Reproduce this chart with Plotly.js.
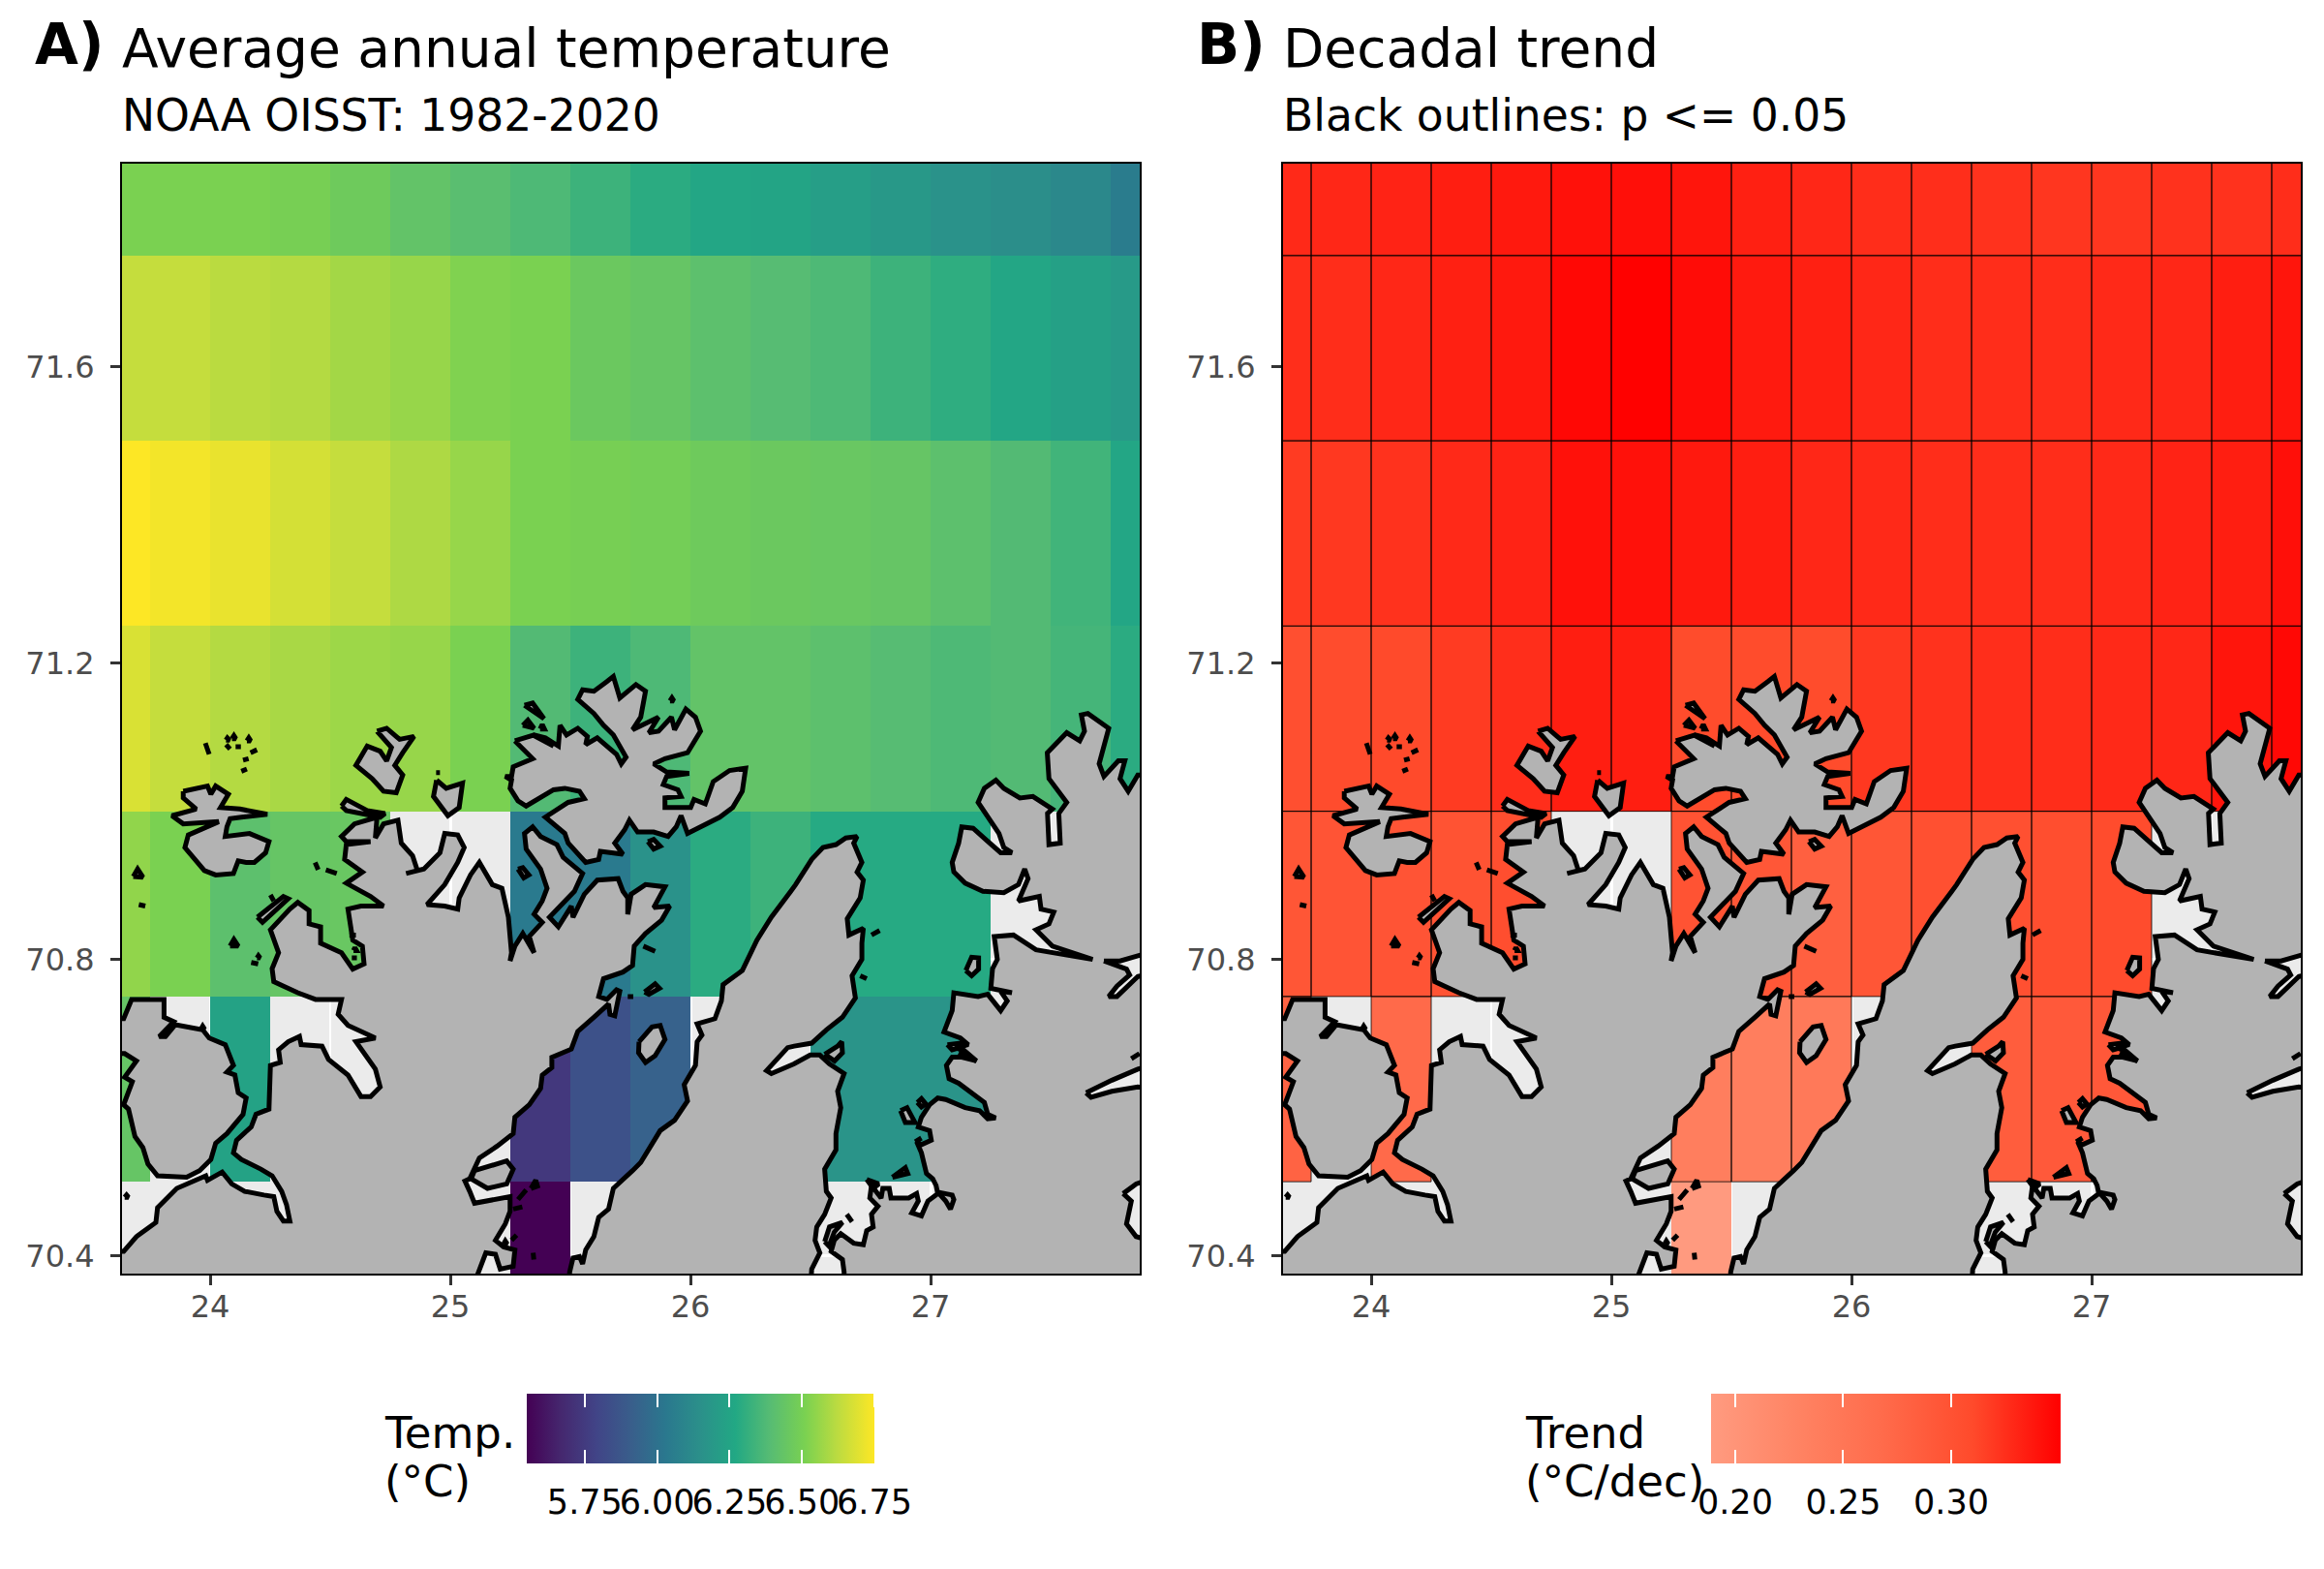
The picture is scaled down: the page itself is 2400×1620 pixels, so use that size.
<!DOCTYPE html>
<html><head><meta charset="utf-8">
<script src="https://cdn.plot.ly/plotly-3.0.1.min.js"></script>
<style>html,body{margin:0;padding:0;background:#fff}</style></head>
<body><div id="chart" style="width:2400px;height:1620px"></div>
<script>
const cellLon=[23.625,23.875,24.125,24.375,24.625,24.875,25.125,25.375,25.625,25.875,26.125,26.375,26.625,26.875,27.125,27.375,27.625,27.875];
const cellLat=[70.375,70.625,70.875,71.125,71.375,71.625,71.875];
const _=null;
const temp70375=[_,_,_,_,_,_,_,5.55,_,_,_,_,_,_,_,_,_,_];
const temp70625=[6.44,_,6.24,_,_,_,_,5.74,5.85,5.93,_,_,6.17,6.17,6.17,_,_,_];
const temp70875=[6.55,6.51,6.41,6.44,6.45,_,_,6.04,6.04,6.16,6.29,6.33,6.28,6.28,6.28,_,_,_];
const temp71125=[6.68,6.64,6.61,6.59,6.57,6.56,6.51,6.38,6.33,6.37,6.43,6.43,6.41,6.39,6.37,6.38,6.35,6.29];
const temp71375=[6.75,6.73,6.71,6.67,6.64,6.60,6.56,6.51,6.50,6.49,6.47,6.46,6.45,6.44,6.41,6.38,6.34,6.26];
const temp71625=[6.64,6.64,6.62,6.61,6.58,6.56,6.52,6.51,6.46,6.44,6.41,6.39,6.37,6.33,6.30,6.26,6.23,6.20];
const temp71875=[6.51,6.51,6.51,6.50,6.47,6.43,6.40,6.37,6.33,6.29,6.26,6.25,6.22,6.19,6.16,6.14,6.11,6.05];
const trend70375=[_,_,_,_,_,_,_,0.190,_,_,_,_,_,_,_,_,_,_];
const trend70625=[.278,_,.270,_,_,_,_,.237,.237,.245,_,_,.286,.291,.292,_,_,_];
const trend70875=[.295,.297,.297,.299,.305,_,_,.299,.294,.282,.295,.302,.302,.305,.307,_,_,_];
const trend71125=[.304,.307,.310,.318,.325,.334,.334,.308,.308,.308,.320,.323,.325,.326,.328,.329,.339,.346];
const trend71375=[.318,.320,.323,.328,.331,.341,.341,.337,.334,.329,.328,.326,.326,.326,.328,.331,.334,.342];
const trend71625=[.325,.326,.329,.333,.337,.346,.350,.344,.336,.333,.329,.326,.326,.326,.328,.329,.334,.339];
const trend71875=[.328,.329,.331,.334,.337,.341,.342,.339,.333,.329,.326,.325,.323,.321,.321,.323,.323,.326];
const tempTicks=[5.75,6.00,6.25,6.50,6.75];
const trendTicks=[0.20,0.25,0.30];
const lonTicks=[24,25,26,27];
const latTicks=[70.4,70.8,71.2,71.6];
const notSignificantLat=70.375;

const mainlandWest=[[23.566,70.351],[23.566,70.406],[23.640,70.406],[23.693,70.426],[23.774,70.445],[23.781,70.465],[23.861,70.491],[23.982,70.508],[23.989,70.502],[24.050,70.513],[24.090,70.497],[24.144,70.487],[24.224,70.482],[24.265,70.480],[24.278,70.460],[24.305,70.447],[24.332,70.447],[24.318,70.469],[24.298,70.487],[24.258,70.508],[24.211,70.517],[24.130,70.530],[24.097,70.539],[24.110,70.556],[24.171,70.574],[24.191,70.591],[24.245,70.598],[24.251,70.657],[24.292,70.661],[24.285,70.678],[24.325,70.689],[24.372,70.696],[24.379,70.685],[24.466,70.683],[24.493,70.665],[24.574,70.644],[24.628,70.615],[24.668,70.615],[24.708,70.628],[24.688,70.652],[24.607,70.689],[24.688,70.694],[24.574,70.711],[24.533,70.726],[24.547,70.746],[24.439,70.746],[24.365,70.755],[24.265,70.770],[24.258,70.7875],[24.285,70.809],[24.251,70.840],[24.332,70.868],[24.365,70.877],[24.412,70.866],[24.412,70.848],[24.460,70.844],[24.460,70.822],[24.547,70.809],[24.594,70.787],[24.641,70.794],[24.634,70.818],[24.594,70.826],[24.574,70.868],[24.628,70.872],[24.722,70.872],[24.668,70.885],[24.567,70.903],[24.634,70.918],[24.560,70.935],[24.567,70.955],[24.668,70.959],[24.567,70.959],[24.547,70.966],[24.601,70.983],[24.695,70.992],[24.688,70.964],[24.722,70.983],[24.782,70.988],[24.796,70.957],[24.843,70.940],[24.863,70.920],[24.816,70.916],[24.890,70.922],[24.957,70.944],[24.977,70.970],[25.031,70.968],[25.058,70.951],[25.031,70.931],[24.977,70.901],[24.903,70.874],[24.977,70.872],[25.031,70.868],[25.037,70.883],[25.084,70.914],[25.121,70.931],[25.175,70.901],[25.215,70.896],[25.242,70.857],[25.255,70.809],[25.249,70.798],[25.269,70.818],[25.302,70.835],[25.349,70.809],[25.329,70.831],[25.383,70.850],[25.349,70.861],[25.383,70.879],[25.403,70.896],[25.376,70.922],[25.316,70.949],[25.309,70.970],[25.343,70.979],[25.376,70.966],[25.444,70.955],[25.470,70.938],[25.551,70.916],[25.517,70.892],[25.413,70.857],[25.450,70.844],[25.504,70.872],[25.511,70.857],[25.558,70.888],[25.612,70.907],[25.699,70.909],[25.719,70.892],[25.739,70.883],[25.739,70.861],[25.753,70.888],[25.813,70.901],[25.894,70.898],[25.847,70.870],[25.914,70.872],[25.880,70.853],[25.813,70.835],[25.766,70.818],[25.759,70.792],[25.719,70.783],[25.638,70.774],[25.618,70.750],[25.652,70.746],[25.692,70.759],[25.706,70.757],[25.685,70.724],[25.665,70.726],[25.659,70.740],[25.598,70.722],[25.531,70.703],[25.504,70.679],[25.423,70.668],[25.423,70.654],[25.383,70.644],[25.376,70.626],[25.329,70.604],[25.269,70.587],[25.262,70.565],[25.195,70.548],[25.121,70.532],[25.081,70.504],[25.061,70.501],[25.081,70.487],[25.101,70.471],[25.249,70.480],[25.249,70.460],[25.229,70.443],[25.188,70.421],[25.222,70.412],[25.269,70.408],[25.262,70.386],[25.208,70.382],[25.188,70.402],[25.148,70.404],[25.114,70.375],[25.114,70.351]];
const westPeninsula=[[23.593,70.720],[23.640,70.720],[23.673,70.746],[23.808,70.746],[23.808,70.722],[23.848,70.716],[23.788,70.696],[23.814,70.696],[23.855,70.712],[23.969,70.705],[23.996,70.694],[24.063,70.685],[24.097,70.657],[24.070,70.648],[24.103,70.644],[24.117,70.620],[24.150,70.613],[24.137,70.591],[24.070,70.565],[24.023,70.552],[24.003,70.530],[23.956,70.515],[23.902,70.506],[23.781,70.508],[23.741,70.524],[23.720,70.546],[23.687,70.561],[23.660,70.598],[23.640,70.604],[23.676,70.635],[23.644,70.641],[23.693,70.663],[23.644,70.673],[23.593,70.673]];
const eastPeninsula=[[25.497,70.351],[25.497,70.378],[25.511,70.397],[25.538,70.399],[25.551,70.389],[25.564,70.408],[25.598,70.426],[25.618,70.452],[25.659,70.463],[25.679,70.491],[25.759,70.515],[25.793,70.526],[25.874,70.569],[25.934,70.583],[25.988,70.609],[25.974,70.631],[26.021,70.657],[26.028,70.689],[26.048,70.698],[26.028,70.713],[26.102,70.720],[26.129,70.744],[26.136,70.766],[26.216,70.785],[26.277,70.826],[26.337,70.857],[26.418,70.892],[26.438,70.901],[26.505,70.935],[26.552,70.951],[26.606,70.955],[26.647,70.964],[26.694,70.966],[26.680,70.957],[26.714,70.931],[26.694,70.918],[26.720,70.907],[26.707,70.883],[26.653,70.855],[26.660,70.833],[26.720,70.842],[26.714,70.822],[26.714,70.800],[26.673,70.778],[26.687,70.748],[26.633,70.722],[26.566,70.705],[26.505,70.687],[26.432,70.683],[26.405,70.681],[26.317,70.650],[26.337,70.646],[26.431,70.659],[26.499,70.671],[26.539,70.671],[26.579,70.659],[26.640,70.646],[26.613,70.622],[26.626,70.600],[26.606,70.565],[26.606,70.543],[26.559,70.517],[26.566,70.487],[26.586,70.478],[26.559,70.456],[26.526,70.439],[26.519,70.421],[26.539,70.404],[26.505,70.382],[26.499,70.351]];
const eastLand=[[26.640,70.351],[26.640,70.378],[26.633,70.395],[26.586,70.406],[26.599,70.421],[26.626,70.430],[26.680,70.417],[26.720,70.415],[26.734,70.434],[26.761,70.439],[26.754,70.456],[26.781,70.467],[26.747,70.478],[26.754,70.495],[26.794,70.478],[26.801,70.491],[26.828,70.491],[26.835,70.478],[26.909,70.478],[26.942,70.484],[26.949,70.474],[26.922,70.458],[26.962,70.454],[26.989,70.474],[27.030,70.484],[27.023,70.495],[27.009,70.504],[26.983,70.511],[26.962,70.539],[26.942,70.554],[26.962,70.550],[27.003,70.556],[26.996,70.569],[26.949,70.574],[26.962,70.587],[26.996,70.604],[27.030,70.613],[27.063,70.611],[27.144,70.600],[27.204,70.596],[27.238,70.585],[27.271,70.586],[27.238,70.591],[27.224,70.607],[27.117,70.633],[27.077,70.639],[27.066,70.657],[27.090,70.668],[27.130,70.668],[27.191,70.663],[27.144,70.676],[27.103,70.681],[27.157,70.685],[27.124,70.694],[27.056,70.702],[27.090,70.731],[27.097,70.755],[27.198,70.750],[27.238,70.753],[27.292,70.731],[27.319,70.744],[27.292,70.757],[27.339,70.755],[27.251,70.761],[27.258,70.7875],[27.278,70.800],[27.265,70.831],[27.345,70.833],[27.439,70.813],[27.675,70.800],[27.507,70.818],[27.439,70.840],[27.493,70.848],[27.513,70.864],[27.460,70.868],[27.453,70.885],[27.366,70.879],[27.406,70.909],[27.392,70.922],[27.366,70.901],[27.305,70.890],[27.218,70.892],[27.144,70.903],[27.097,70.918],[27.090,70.931],[27.117,70.957],[27.130,70.979],[27.177,70.977],[27.292,70.944],[27.339,70.944],[27.305,70.951],[27.285,70.970],[27.198,71.012],[27.224,71.031],[27.272,71.042],[27.305,71.031],[27.372,71.018],[27.426,71.020],[27.507,71.003],[27.487,70.997],[27.493,70.955],[27.540,70.957],[27.534,70.997],[27.567,71.012],[27.493,71.044],[27.486,71.079],[27.567,71.106],[27.621,71.095],[27.641,71.108],[27.628,71.130],[27.655,71.132],[27.742,71.112],[27.702,71.064],[27.722,71.047],[27.782,71.068],[27.809,71.068],[27.789,71.044],[27.823,71.027],[27.863,71.049],[27.923,71.049],[27.923,70.351]];
const mageroya=[[25.269,71.095],[25.343,71.071],[25.262,71.060],[25.255,71.047],[25.229,71.047],[25.255,71.042],[25.249,71.031],[25.282,71.014],[25.316,71.007],[25.376,71.018],[25.430,71.029],[25.477,71.031],[25.538,71.027],[25.558,71.017],[25.491,71.012],[25.396,70.992],[25.477,70.970],[25.491,70.957],[25.564,70.931],[25.618,70.935],[25.625,70.946],[25.719,70.942],[25.685,70.957],[25.726,70.975],[25.746,70.988],[25.780,70.972],[25.847,70.972],[25.907,70.966],[25.941,70.979],[25.961,70.994],[25.988,70.970],[26.122,70.992],[26.176,71.005],[26.216,71.027],[26.230,71.058],[26.163,71.055],[26.095,71.040],[26.062,71.010],[26.015,71.016],[26.001,71.005],[25.894,71.005],[25.894,71.018],[25.961,71.020],[25.948,71.029],[25.887,71.036],[25.901,71.047],[25.995,71.051],[25.901,71.053],[25.847,71.064],[25.894,71.071],[25.988,71.079],[26.042,71.108],[26.021,71.127],[25.981,71.138],[25.934,71.110],[25.921,71.127],[25.867,71.108],[25.827,71.106],[25.867,71.127],[25.759,71.110],[25.793,71.127],[25.813,71.162],[25.773,71.171],[25.706,71.153],[25.679,71.182],[25.652,71.175],[25.598,71.162],[25.551,71.164],[25.531,71.151],[25.598,71.132],[25.638,71.116],[25.679,71.103],[25.732,71.073],[25.712,71.064],[25.692,71.077],[25.612,71.099],[25.564,71.090],[25.571,71.101],[25.531,71.112],[25.484,71.103],[25.457,71.116],[25.450,71.088],[25.396,71.099],[25.349,71.103],[25.276,71.097]];
const smallIslands=[
[[25.101,70.515],[25.235,70.528],[25.262,70.517],[25.235,70.497],[25.155,70.491],[25.087,70.504]],
[[23.888,71.027],[23.989,71.034],[24.003,71.023],[24.023,71.034],[24.076,71.023],[24.043,71.005],[24.124,71.003],[24.238,70.996],[24.130,70.992],[24.083,70.990],[24.070,70.979],[24.063,70.966],[24.164,70.970],[24.245,70.959],[24.231,70.944],[24.184,70.931],[24.150,70.931],[24.117,70.933],[24.097,70.916],[24.023,70.914],[23.976,70.920],[23.949,70.931],[23.895,70.951],[23.909,70.968],[24.036,70.986],[23.888,70.983],[23.841,70.994],[23.942,71.003],[23.888,71.018]],
[[24.695,71.108],[24.735,71.112],[24.789,71.097],[24.849,71.101],[24.802,71.079],[24.769,71.062],[24.802,71.049],[24.775,71.025],[24.722,71.027],[24.675,71.044],[24.607,71.062],[24.654,71.088],[24.708,71.081],[24.735,71.068],[24.755,71.086]],
[[24.943,71.042],[24.983,71.031],[25.051,71.038],[25.037,71.005],[24.990,70.994],[24.930,71.020]],
[[24.547,71.007],[24.567,71.016],[24.654,71.001],[24.728,70.997],[24.708,70.992],[24.567,71.001]],
[[24.197,70.857],[24.305,70.885],[24.325,70.882],[24.218,70.850]],
[[23.680,70.912],[23.698,70.922],[23.720,70.911]],[[23.703,70.874],[23.730,70.872]],[[23.980,71.092],[23.996,71.077]],[[24.066,71.090],[24.083,71.084]],[[24.066,71.096],[24.072,71.099],[24.081,71.096]],[[24.091,71.098],[24.099,71.102],[24.107,71.098]],[[24.153,71.095],[24.161,71.099],[24.169,71.095]],[[24.106,71.087],[24.128,71.087]],[[24.168,71.079],[24.195,71.083]],[[24.137,71.069],[24.160,71.071]],[[24.130,71.054],[24.153,71.057]],[[24.083,70.818],[24.099,70.827],[24.117,70.818]],[[24.171,70.796],[24.200,70.794]],[[24.195,70.802],[24.201,70.805],[24.208,70.802]],[[24.251,70.887],[24.265,70.879]],[[24.437,70.931],[24.450,70.921]],[[24.482,70.921],[24.527,70.916]],[[24.941,71.052],[24.957,71.052]],[[24.597,70.812],[24.603,70.816],[24.610,70.812]],[[24.590,70.802],[24.611,70.802]],[[24.580,70.833],[24.607,70.833]],[[23.644,70.479],[23.652,70.482],[23.660,70.479]],[[23.962,70.706],[23.969,70.710],[23.977,70.706]],
[[25.309,71.143],[25.343,71.146],[25.390,71.125],[25.356,71.132]],[[25.302,71.116],[25.323,71.123],[25.349,71.112]],[[25.374,71.111],[25.383,71.117],[25.392,71.111]],[[25.343,71.103],[25.376,71.099],[25.430,71.088]],[[25.915,71.149],[25.923,71.153],[25.931,71.149]],[[25.282,70.922],[25.302,70.924],[25.327,70.914],[25.306,70.910]],[[25.823,70.959],[25.847,70.962],[25.874,70.953],[25.847,70.949]],[[25.804,70.818],[25.853,70.811]],
[[25.739,70.750],[25.762,70.750]],[[25.809,70.756],[25.853,70.767],[25.871,70.761],[25.827,70.753]],[[25.786,70.689],[25.840,70.709],[25.874,70.711],[25.894,70.692],[25.853,70.670],[25.813,70.661],[25.784,70.674]],[[25.336,70.491],[25.356,70.502],[25.363,70.494]],[[25.282,70.476],[25.316,70.489]],[[25.262,70.463],[25.300,70.466]],[[25.255,70.421],[25.276,70.428]],[[25.222,70.416],[25.229,70.420],[25.237,70.416]],[[25.345,70.404],[25.348,70.395]],
[[26.754,70.833],[26.788,70.839]],[[27.147,70.785],[27.171,70.803],[27.200,70.802],[27.200,70.787],[27.171,70.778]],[[26.707,70.778],[26.734,70.774]],
[[26.559,70.672],[26.613,70.683],[26.630,70.689],[26.633,70.674],[26.600,70.663]],[[27.070,70.685],[27.124,70.687],[27.144,70.683],[27.090,70.678]],[[27.117,70.674],[27.191,70.663]],[[26.945,70.607],[26.962,70.612],[26.980,70.605],[26.962,70.601]],[[26.875,70.596],[26.902,70.600],[26.935,70.580],[26.895,70.580]],[[26.936,70.554],[26.962,70.559]],[[26.841,70.506],[26.895,70.519],[26.905,70.511]],[[26.651,70.456],[26.673,70.446]],[[26.559,70.419],[26.579,70.439],[26.633,70.445],[26.599,70.432],[26.577,70.413]],[[26.734,70.503],[26.784,70.497],[26.761,70.491]],[[27.030,70.486],[27.090,70.482],[27.097,70.476],[27.083,70.463],[27.063,70.474]],[[27.836,70.666],[27.870,70.673]]
];
const openInlets=[
[[27.722,70.798],[27.816,70.787],[27.829,70.779],[27.776,70.764],[27.742,70.750],[27.776,70.750],[27.863,70.777],[27.923,70.781],[27.923,70.809],[27.863,70.805],[27.789,70.798]],
[[27.648,70.620],[27.722,70.633],[27.755,70.637],[27.863,70.652],[27.923,70.657],[27.923,70.626],[27.863,70.628],[27.755,70.622],[27.668,70.614]],
[[27.802,70.484],[27.856,70.497],[27.923,70.504],[27.923,70.419],[27.856,70.426],[27.816,70.443],[27.836,70.474]]
];

const LAND='#B3B3B3', NA='#EBEBEB', INK='#000000', TICK='#4D4D4D';
const FONT='DejaVu Sans';
const viridisScale=[[0,'#440154'],[.1,'#45286F'],[.2,'#414487'],[.3,'#395E8B'],[.4,'#2A788E'],[.5,'#2B908A'],[.6,'#22A884'],[.7,'#57BC73'],[.8,'#7AD151'],[.9,'#C0DC3F'],[1,'#FDE725']];
const redScale=[[0,'#FF9B80'],[.25,'#FF8363'],[.5,'#FF6A4A'],[.75,'#FF4A2B'],[1,'#FF0000']];
const clear=[[0,'rgba(0,0,0,0)'],[1,'rgba(0,0,0,0)']];
const tempZ=[temp70375,temp70625,temp70875,temp71125,temp71375,temp71625,temp71875];
const trendZ=[trend70375,trend70625,trend70875,trend71125,trend71375,trend71625,trend71875];

function flatten(polys){const x=[],y=[];polys.forEach(p=>{p.concat([p[0]]).forEach(q=>{x.push(q[0]);y.push(q[1]);});x.push(null);y.push(null);});return {x,y};}
const land=flatten([mainlandWest,westPeninsula,eastPeninsula,eastLand,mageroya].concat(smallIslands));
const inlets=flatten(openInlets);

// outlines of significant trend cells, derived from the cell table
const half=0.125, ox=[], oy=[];
cellLat.forEach((la,r)=>{ if(la===notSignificantLat) return;
  cellLon.forEach((lo,c)=>{ if(trendZ[r][c]===null) return;
    ox.push(lo-half,lo+half,lo+half,lo-half,lo-half,null);
    oy.push(la-half,la-half,la+half,la+half,la-half,null);
  });
});

function cbar(left,width,ticks,extra){
  return Object.assign({orientation:'h',lenmode:'pixels',len:width,thickness:72,thicknessmode:'pixels',
    x:left/2400,xanchor:'left',y:(1620-1439)/1620,yanchor:'top',xpad:0,ypad:0,outlinewidth:0,borderwidth:0,bgcolor:'rgba(0,0,0,0)',
    tickmode:'array',tickvals:ticks,ticktext:ticks.map(v=>v.toFixed(2)),tickangle:0,
    tickfont:{family:FONT,size:35,color:'#000'}},extra);
}
function panel(z,scale,zmin,zmax,xa,ya,left,width,ticks){
  const base={type:'heatmap',x:cellLon,y:cellLat,z:z,zmin:zmin,zmax:zmax,xaxis:xa,yaxis:ya,hoverinfo:'skip',zsmooth:false};
  return [
    Object.assign({},base,{colorscale:scale,colorbar:cbar(left,width,ticks,{ticks:'outside',ticklen:10,tickcolor:'rgba(0,0,0,0)'})}),
    Object.assign({},base,{colorscale:clear,colorbar:cbar(left,width,ticks,{ticks:'inside',ticklen:14,tickwidth:2,tickcolor:'#FFFFFF',showticklabels:false})}),
    Object.assign({},base,{colorscale:clear,colorbar:cbar(left,width,ticks,{thickness:1,y:(1620-1438)/1620,ticks:'outside',ticklen:14,tickwidth:2,tickcolor:'#FFFFFF',showticklabels:false})})
  ];
}
function landTraces(xa,ya){return [
  {type:'scatter',mode:'lines',x:land.x,y:land.y,fill:'toself',fillcolor:LAND,line:{color:INK,width:5},xaxis:xa,yaxis:ya,hoverinfo:'skip',showlegend:false},
  {type:'scatter',mode:'lines',x:inlets.x,y:inlets.y,fill:'toself',fillcolor:NA,line:{color:INK,width:5},xaxis:xa,yaxis:ya,hoverinfo:'skip',showlegend:false}
];}
const traces=[].concat(
  panel(tempZ,viridisScale,5.55,6.75,'x','y',544,359,tempTicks),
  landTraces('x','y'),
  panel(trendZ,redScale,0.1886,0.3504,'x2','y2',1766.5,360.5,trendTicks),
  [{type:'scatter',mode:'lines',x:ox,y:oy,line:{color:'#000',width:0.8},xaxis:'x2',yaxis:'y2',hoverinfo:'skip',showlegend:false}],
  landTraces('x2','y2')
);
function xAxis(dom,anchor){return {domain:dom,anchor:anchor,range:[23.633,27.871],tickmode:'array',tickvals:lonTicks,ticktext:lonTicks.map(String),
  ticks:'outside',ticklen:10,tickwidth:3,tickcolor:'#333333',tickfont:{family:FONT,size:32,color:TICK},ticklabelstandoff:-5,
  showline:true,mirror:true,linecolor:'#000',linewidth:2,zeroline:false,showgrid:true,gridcolor:'#FFFFFF',gridwidth:3,
  minor:{tickmode:'array',tickvals:[24.5,25.5,26.5,27.5],showgrid:true,gridcolor:'#FFFFFF',gridwidth:1.5,ticks:''}};}
function yAxis(anchor){return {domain:[1-1315/1620,1-169/1620],anchor:anchor,range:[70.376,71.874],tickmode:'array',tickvals:latTicks,ticktext:latTicks.map(v=>v.toFixed(1)),
  ticks:'outside',ticklen:10,tickwidth:3,tickcolor:'#333333',tickfont:{family:FONT,size:32,color:TICK},ticklabelstandoff:10,
  showline:true,mirror:true,linecolor:'#000',linewidth:2,zeroline:false,showgrid:true,gridcolor:'#FFFFFF',gridwidth:3,
  minor:{tickmode:'array',tickvals:[70.6,71.0,71.4,71.8],showgrid:true,gridcolor:'#FFFFFF',gridwidth:1.5,ticks:''}};}
function note(text,px,py,size,weight){return {text:weight?'<b>'+text+'</b>':text,xref:'paper',yref:'paper',x:px/2400,y:1-py/1620,xanchor:'left',yanchor:'middle',showarrow:false,align:'left',font:{family:FONT,size:size,color:'#000'}};}
const layout={width:2400,height:1620,margin:{l:0,r:0,t:0,b:0},paper_bgcolor:'#FFFFFF',plot_bgcolor:NA,showlegend:false,hovermode:false,
  font:{family:FONT},
  xaxis:xAxis([126/2400,1177/2400],'y'),yaxis:yAxis('x'),
  xaxis2:xAxis([1325/2400,2376/2400],'y2'),yaxis2:yAxis('x2'),
  annotations:[
    note('A)',34,46,58,true),note('Average annual temperature',124,50,55),note('NOAA OISST: 1982-2020',124,119,45.6),
    note('B)',1234,46,58,true),note('Decadal trend',1323,50,55),note('Black outlines: p <= 0.05',1323,119,45.6),
    note('Temp.',395,1479.5,45),note('(°C)',395,1529.5,45),
    note('Trend',1573,1479.5,45),note('(°C/dec)',1573,1529.5,45)
  ]};
Plotly.newPlot('chart',traces,layout,{displayModeBar:false,staticPlot:true});
</script></body></html>
